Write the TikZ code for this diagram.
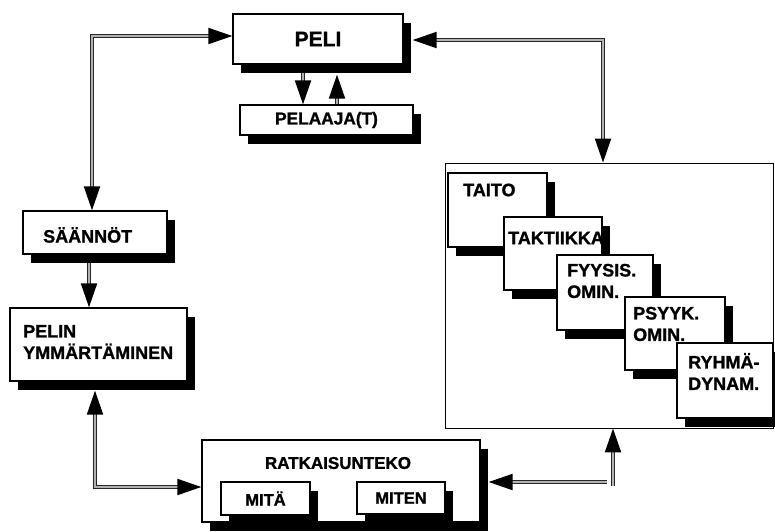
\documentclass[tikz,border=0pt]{standalone}
\usepackage{fontspec}
\setmainfont{Liberation Sans}[BoldFeatures={FakeBold=1.2}]
\usetikzlibrary{arrows.meta,shadows}
\pgfdeclarelayer{bg}
\pgfsetlayers{bg,main}
\newcommand{\Conn}[3]{\draw[dbl,#1]#3;\draw[tipl,#2]#3;}
\begin{document}
\begin{tikzpicture}[x=1pt,y=-1pt,
 box/.style={draw=black, fill=white, line width=1.3pt, inner sep=0pt, rectangle,
   drop shadow={shadow xshift=8pt, shadow yshift=-9pt, opacity=1, fill=black}},
 lbl/.style={font=\bfseries\fontsize{18}{21.5}\selectfont, inner sep=0pt, align=left},
 dbl/.style={draw=black!85, line width=0.9pt, double=black!30, double distance=2pt},
 tipl/.style={draw=black!30, line width=2pt},
 fwd/.style={-{Triangle[length=24pt,width=16pt,color=black]}},
 both/.style={{Triangle[length=24pt,width=16pt,color=black]}-{Triangle[length=24pt,width=16pt,color=black]}},
]
\begin{pgfonlayer}{bg}
\fill[white] (0,0) rectangle (775,531);
\end{pgfonlayer}
\useasboundingbox (0,0) rectangle (775,531);

% top
\node[box, minimum width=170pt, minimum height=50pt,
      font=\bfseries\fontsize{21}{25}\selectfont] (PELI) at (318,39) {PELI};
\node[box, minimum width=173pt, minimum height=30pt,
      font=\bfseries\fontsize{17.3}{21}\selectfont] (PELAAJA) at (326.5,120) {PELAAJA(T)};

% left column
\node[box, minimum width=144pt, minimum height=43pt] (SAANNOT) at (95,232.5) {};
\node[lbl, anchor=west] (tSAANNOT) at (43,235) {SÄÄNNÖT};
\node[box, minimum width=177pt, minimum height=73pt] (PELIN) at (98.5,344.5) {};
\node[lbl, anchor=west] (tPELIN) at (23,342) {PELIN\\YMMÄRTÄMINEN};

% bottom
\node[box, minimum width=278pt, minimum height=82pt] (RATK) at (341,481) {};
\node[lbl, font=\bfseries\fontsize{17}{21}\selectfont] (tRATK) at (338,463) {RATKAISUNTEKO};
\node[box, minimum width=89pt, minimum height=33pt,
      font=\bfseries\fontsize{16.5}{20}\selectfont] (MITA) at (265.5,498.5) {MITÄ};
\node[box, minimum width=88pt, minimum height=32pt,
      font=\bfseries\fontsize{16.5}{20}\selectfont] (MITEN) at (401,498) {MITEN};

% right big frame
\node[draw=black, fill=white, line width=0.9pt, inner sep=0pt,
      minimum width=328pt, minimum height=265pt] (BIG) at (609,295.5) {};
\node[box, minimum width=99pt, minimum height=74pt] (TAITO) at (497.5,210) {};
\node[lbl, anchor=west] (tTAITO) at (463,190) {TAITO};
\node[box, minimum width=98pt, minimum height=73pt] (TAKT) at (553,253.5) {};
\node[lbl, anchor=west] (tTAKT) at (508,238) {TAKTIIKKA};
\node[box, minimum width=96pt, minimum height=75pt] (FYYS) at (605,292.5) {};
\node[lbl, anchor=west] (tFYYS) at (567,281) {FYYSIS.\\OMIN.};
\node[box, minimum width=100pt, minimum height=73pt] (PSYYK) at (675,333.5) {};
\node[lbl, anchor=west] (tPSYYK) at (633,324) {PSYYK.\\OMIN.};
\node[box, minimum width=96pt, minimum height=75pt] (RYHMA) at (725,380.5) {};
\node[lbl, anchor=west] (tRYHMA) at (688,371.5) {RYHMÄ-\\DYNAM.};

\coordinate (J1) at (613,486);
\coordinate (J2) at (607,482);
\coordinate (RSE) at ([xshift=8pt]RATK.east);

\begin{pgfonlayer}{bg}
\Conn{shorten <=14pt, shorten >=14pt}{both}{([yshift=3pt]PELI.west) -| ([xshift=-3pt]SAANNOT.north)}
\Conn{shorten >=14pt}{fwd}{([xshift=-6pt]SAANNOT.south) -- ([xshift=-6pt]SAANNOT.south |- PELIN.north)}
\Conn{shorten <=14pt, shorten >=14pt}{both}{([xshift=9pt,yshift=-1pt]PELI.east) -| ([xshift=-6pt]BIG.north)}
\Conn{shorten >=14pt}{fwd}{([xshift=-15pt]PELI.south) -- ([xshift=-15pt]PELI.south |- PELAAJA.north)}
\Conn{shorten >=14pt}{fwd}{([xshift=19pt]PELI.south |- PELAAJA.north) -- ([xshift=19pt,yshift=-10pt]PELI.south)}
\Conn{shorten <=14pt, shorten >=14pt}{both}{([xshift=-3.5pt,yshift=-9pt]PELIN.south) |- ([yshift=-6pt]RATK.west)}
\Conn{shorten >=14pt}{fwd}{(J1) -- (J1 |- BIG.south)}
\Conn{shorten >=14pt}{fwd}{(J2) -- (J2 -| RSE)}
\end{pgfonlayer}
\end{tikzpicture}
\end{document}
